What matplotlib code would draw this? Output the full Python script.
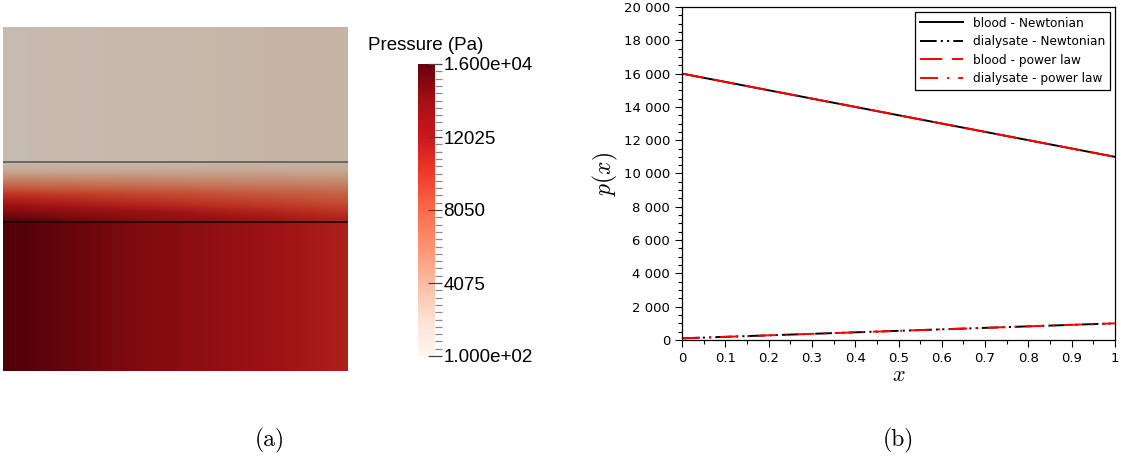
import numpy as np
import matplotlib
matplotlib.use("Agg")
import matplotlib.pyplot as plt
from matplotlib import cm
from matplotlib.colors import Normalize
from matplotlib.ticker import FixedLocator, MultipleLocator, FuncFormatter

plt.rcParams['mathtext.fontset'] = 'cm'
plt.rcParams['lines.scale_dashes'] = False

# 1D pressure along the fibre
x_pos = [0.0, 1.0]
p_blood_newt = [16000, 11000]
p_dial_newt = [100, 1000]
p_blood_pow = [16000, 11000]
p_dial_pow = [100, 1000]

# panel (a): layer thicknesses (blood, membrane, dialysate) and membrane profile
layer_h = [1.49, 0.60, 1.35]
mem_depth = [0.0, 0.12, 0.36, 0.53, 0.70, 0.86, 1.0]     # 0 = dialysate side
mem_weight = [0.03, 0.12, 0.38, 0.60, 0.74, 0.90, 1.0]   # share of blood pressure

p_min, p_max = 100, 16000
cbar_ticks = [100, 4075, 8050, 12025, 16000]
cbar_labels = ['1.000e+02', '4075', '8050', '12025', '1.600e+04']

W, H = 1130, 463
fig = plt.figure(figsize=(W / 100, H / 100), dpi=100)

def box(l, t, r, b):
    return [l / W, 1 - b / H, (r - l) / W, (b - t) / H]

# ---------- (a) pressure field ----------
ax_img = fig.add_axes(box(3, 27, 348, 371))
nx, ny = 300, 400
xg = np.linspace(0, 1, nx)
total = sum(layer_h)
yg = np.linspace(0, total, ny)
pb = np.interp(xg, x_pos, p_blood_newt)
pd_ = np.interp(xg, x_pos, p_dial_newt)
y_mem0 = layer_h[0]
y_mem1 = layer_h[0] + layer_h[1]
field = np.zeros((ny, nx))
for j, yy in enumerate(yg):
    if yy <= y_mem0:
        field[j] = pb
    elif yy >= y_mem1:
        field[j] = pd_
    else:
        depth = (y_mem1 - yy) / layer_h[1]
        w = np.interp(depth, mem_depth, mem_weight)
        field[j] = pd_ + w * (pb - pd_)

norm = Normalize(p_min, p_max)
rgb = cm.Reds(norm(field))[..., :3]
rgb = rgb * np.array([0.78, 0.765, 0.73])   # scene lighting
ax_img.imshow(rgb, origin='lower', extent=[0, 1, 0, total], aspect='auto',
              interpolation='bilinear')
ax_img.axhline(y_mem1, color='#5a5a5a', lw=1.2)
ax_img.axhline(y_mem0, color='#1a0202', lw=1.2)
ax_img.set_xlim(0, 1)
ax_img.set_ylim(0, total)
ax_img.axis('off')

cax = fig.add_axes(box(418, 64, 435, 356))
sm = cm.ScalarMappable(norm=norm, cmap='Reds')
cb = fig.colorbar(sm, cax=cax, ticks=cbar_ticks)
cb.outline.set_visible(False)
cb.ax.set_yticklabels(cbar_labels)
cb.ax.yaxis.set_minor_locator(FixedLocator(np.linspace(p_min, p_max, 41)))
cb.ax.tick_params(which='major', direction='inout', length=10, width=0.9,
                  color='#444444', labelsize=13.5, pad=1)
cb.ax.tick_params(which='minor', direction='out', length=5, width=0.9,
                  color='#8a8a8a')
for t in cb.ax.get_yticklabels():
    t.set_family('Liberation Sans')
fig.text(368 / W, 1 - 45 / H, 'Pressure (Pa)', family='Liberation Sans',
         fontsize=13.5, ha='left', va='center')

# ---------- (b) pressure profiles ----------
ax = fig.add_axes(box(682, 7, 1115, 340))
ax.plot(x_pos, p_blood_newt, color='black', lw=1.4, label='blood - Newtonian')
ax.plot(x_pos, p_dial_newt, color='black', lw=1.4,
        dashes=(12, 3, 1.5, 3, 1.5, 3), label='dialysate - Newtonian')
ax.plot(x_pos, p_blood_pow, color='red', lw=1.4, dashes=(16, 7),
        label='blood - power law')
ax.plot(x_pos, p_dial_pow, color='red', lw=1.4, dashes=(13, 6.5, 1.5, 6.5),
        label='dialysate - power law')
ax.set_xlim(0, 1)
ax.set_ylim(0, 20000)
ax.xaxis.set_major_locator(MultipleLocator(0.1))
ax.xaxis.set_minor_locator(MultipleLocator(0.05))
ax.yaxis.set_major_locator(MultipleLocator(2000))
ax.yaxis.set_minor_locator(MultipleLocator(500))
ax.xaxis.set_major_formatter(FuncFormatter(lambda v, p: '%g' % round(v, 2)))
ax.yaxis.set_major_formatter(FuncFormatter(lambda v, p: '{:,}'.format(int(v)).replace(',', ' ')))
ax.tick_params(which='major', direction='out', length=5, width=0.8,
               labelsize=9.5, top=False, right=False)
ax.tick_params(which='minor', direction='out', length=3, width=0.8,
               top=False, right=False)
for s in ax.spines.values():
    s.set_linewidth(0.9)
ax.set_ylabel(r'$p(x)$', fontsize=17, labelpad=3)
ax.set_xlabel(r'$x$', fontsize=16, labelpad=0)
leg = ax.legend(loc='upper right', fontsize=8.7, handlelength=3.6,
                fancybox=False, edgecolor='black', framealpha=1,
                borderaxespad=0.4, labelspacing=0.45)
leg.get_frame().set_linewidth(0.9)

fig.text(270 / W, 1 - 440 / H, '(a)', family='cmr10', fontsize=17,
         ha='center', va='center')
fig.text(898 / W, 1 - 440 / H, '(b)', family='cmr10', fontsize=17,
         ha='center', va='center')

fig.savefig('out.png', dpi=100)
